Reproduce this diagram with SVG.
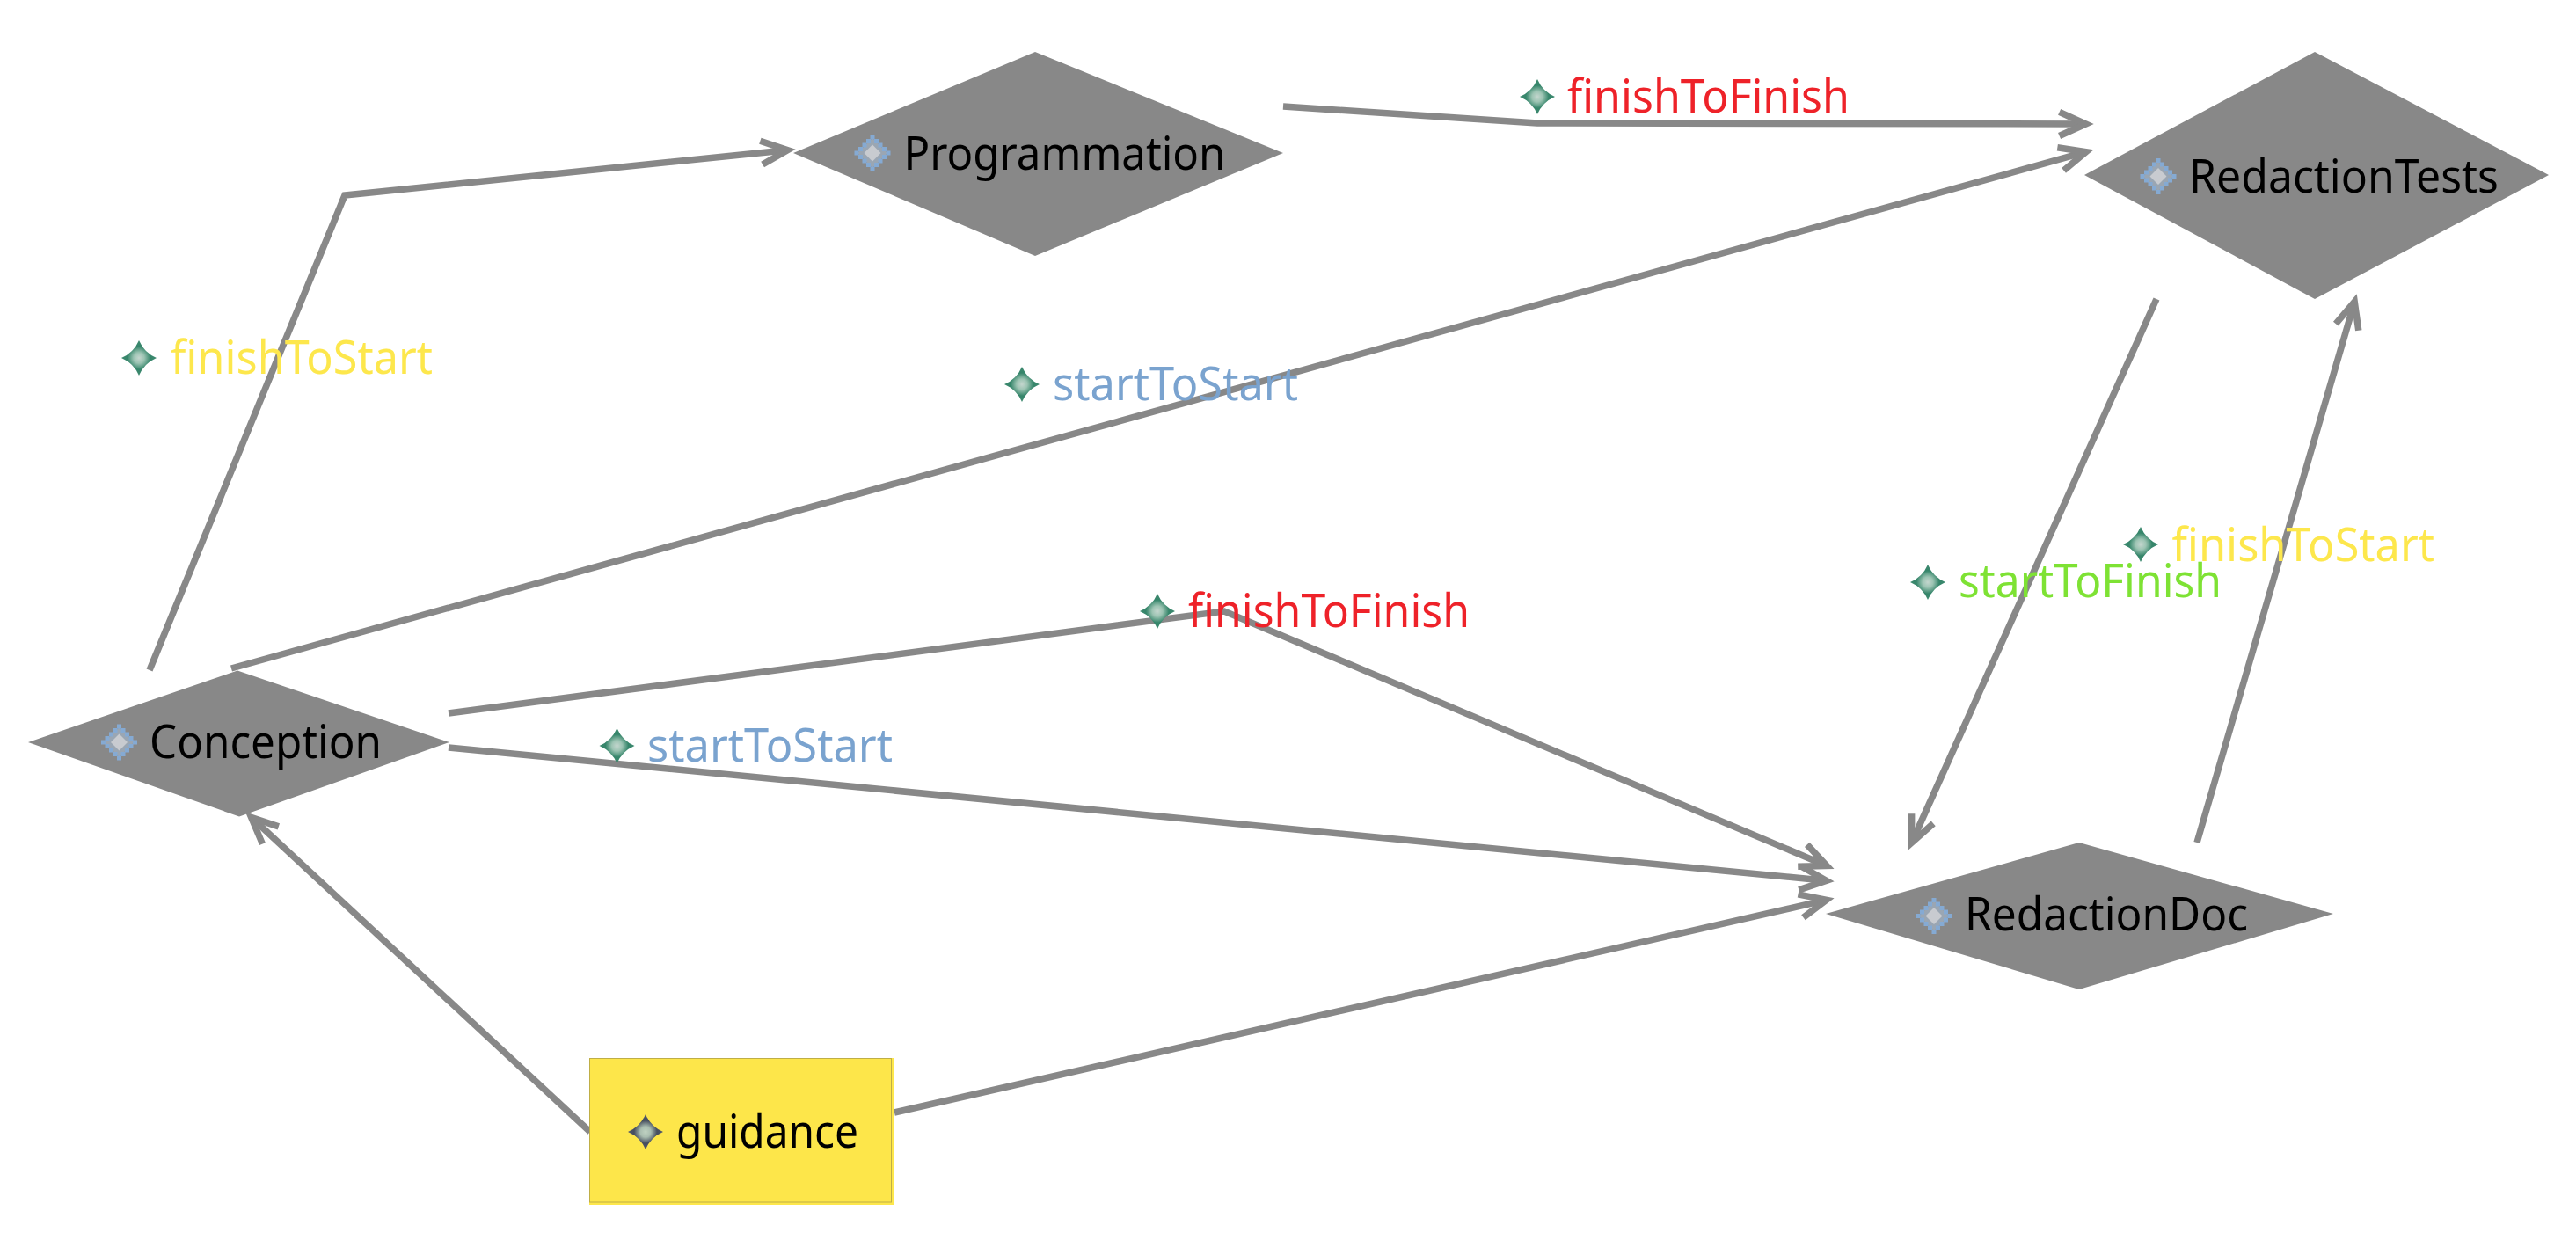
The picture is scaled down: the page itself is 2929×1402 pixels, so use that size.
<svg xmlns="http://www.w3.org/2000/svg" xmlns:xlink="http://www.w3.org/1999/xlink" width="2929" height="1402" viewBox="0 0 2929 1402">
<style>
text{font-family:"Noto Sans","Open Sans","DejaVu Sans",sans-serif;font-size:52.5px}
.node{fill:#000}
.conn{fill:none;stroke:#888888;stroke-width:7.5;marker-end:url(#arrow)}
.shape{fill:#888888}
.ffin{fill:#ee2229}.fsta{fill:#fde74c}.ssta{fill:#7aa3cf}.sfin{fill:#7ee234}
</style>
<defs>
<marker id="arrow" markerUnits="userSpaceOnUse" markerWidth="60" markerHeight="60" refX="40" refY="30" viewBox="0 0 60 60" orient="auto" overflow="visible">
<path d="M13.600,16.500 L43.600,30 L13.600,43.500" fill="none" stroke="#888888" stroke-width="7.5" stroke-miterlimit="6"/>
</marker>
<radialGradient id="gs"><stop offset="0" stop-color="#c4d6ce"/><stop offset=".3" stop-color="#9cc4b3"/><stop offset=".65" stop-color="#35856a"/><stop offset="1" stop-color="#3f8a70"/></radialGradient>
<radialGradient id="gd"><stop offset="0" stop-color="#bfd2c2"/><stop offset=".3" stop-color="#a9bdb0"/><stop offset=".65" stop-color="#454d5e"/><stop offset="1" stop-color="#555b6b"/></radialGradient>
<path id="st" d="M0,-20 Q6,-6 20,0 Q6,6 0,20 Q-6,6 -20,0 Q-6,-6 0,-20z"/>
<g id="star"><use xlink:href="#st" fill="url(#gs)"/></g>
<g id="dstar"><use xlink:href="#st" fill="url(#gd)"/></g>
<g id="task">
<polygon points="0,-17 17,0 0,17 -17,0" fill="#9aa6b3"/>
<path fill="#85aad3" d="M-2.500,-20.500h5v5h-5zM-2.500,15.500h5v5h-5zM-7,-16h5v5h-5zM2,-16h5v5h-5zM-7,11h5v5h-5zM2,11h5v5h-5zM-11.500,-11.500h5v5h-5zM6.500,-11.500h5v5h-5zM-11.500,6.500h5v5h-5zM6.500,6.500h5v5h-5zM-16,-7h5v5h-5zM11,-7h5v5h-5zM-16,2h5v5h-5zM11,2h5v5h-5zM-20.500,-2.500h5v5h-5zM15.500,-2.500h5v5h-5z"/>
<polygon points="0,-9.500 9.500,0 0,9.500 -9.500,0" fill="#c8cbd0"/>
</g>
</defs>
<rect width="2929" height="1402" fill="#ffffff"/>
<g id="connectors">
<polyline class="conn" points="170,762 392,222 892,171"/>
<polyline class="conn" points="263,760 2368.400,173.700"/>
<polyline class="conn" points="1459,121 1748,140 2368,141"/>
<polyline class="conn" points="510,811 1392,695 2073.800,983.100"/>
<polyline class="conn" points="510,850 2073,1001"/>
<polyline class="conn" points="1017,1265 2073.200,1024.200"/>
<polyline class="conn" points="671,1287 288.300,931.800"/>
<polyline class="conn" points="2452,340 2175.100,954.900"/>
<polyline class="conn" points="2498,958 2676.200,346.600"/>
</g>
<g id="node-Programmation"><polygon class="shape" points="902,174 1177,59 1459,174 1177,291"/><use xlink:href="#task" x="992" y="174"/><text class="node" x="1027.500" y="192.500" textLength="366" lengthAdjust="spacingAndGlyphs">Programmation</text></g>
<g id="node-RedactionTests"><polygon class="shape" points="2370,199 2632,59 2898,199 2632,340"/><use xlink:href="#task" x="2454" y="200.500"/><text class="node" x="2489" y="219" textLength="352" lengthAdjust="spacingAndGlyphs">RedactionTests</text></g>
<g id="node-Conception"><polygon class="shape" points="32,844 270,762.500 511,844 272,928.500"/><use xlink:href="#task" x="135.500" y="844"/><text class="node" x="170" y="861.500" textLength="264" lengthAdjust="spacingAndGlyphs">Conception</text></g>
<g id="node-RedactionDoc"><polygon class="shape" points="2076,1039 2364,958 2653,1039 2364,1125"/><use xlink:href="#task" x="2199" y="1041.500"/><text class="node" x="2234" y="1058" textLength="322" lengthAdjust="spacingAndGlyphs">RedactionDoc</text></g>
<g id="node-guidance"><rect x="670" y="1203" width="347" height="167" fill="#fde74c"/><rect x="670.500" y="1203.500" width="343" height="163.500" fill="#fde64a" stroke="#bfae46" stroke-width="1"/><use xlink:href="#dstar" x="734" y="1287"/><text class="node" x="769" y="1305" textLength="207" lengthAdjust="spacingAndGlyphs">guidance</text></g>
<g id="label-finishToStart-1"><use xlink:href="#star" x="158" y="407"/><text class="fsta" x="194" y="425" textLength="298" lengthAdjust="spacingAndGlyphs">finishToStart</text></g>
<g id="label-startToStart-1"><use xlink:href="#star" x="1162" y="437"/><text class="ssta" x="1197" y="455" textLength="279" lengthAdjust="spacingAndGlyphs">startToStart</text></g>
<g id="label-finishToFinish-1"><use xlink:href="#star" x="1748" y="110"/><text class="ffin" x="1782" y="128" textLength="321" lengthAdjust="spacingAndGlyphs">finishToFinish</text></g>
<g id="label-finishToFinish-2"><use xlink:href="#star" x="1316" y="695"/><text class="ffin" x="1351" y="712.500" textLength="320" lengthAdjust="spacingAndGlyphs">finishToFinish</text></g>
<g id="label-startToStart-2"><use xlink:href="#star" x="701.500" y="848"/><text class="ssta" x="736" y="866" textLength="279" lengthAdjust="spacingAndGlyphs">startToStart</text></g>
<g id="label-startToFinish"><use xlink:href="#star" x="2192" y="662"/><text class="sfin" x="2227" y="679" textLength="299" lengthAdjust="spacingAndGlyphs">startToFinish</text></g>
<g id="label-finishToStart-2"><use xlink:href="#star" x="2434" y="619"/><text class="fsta" x="2469.500" y="637.500" textLength="298.500" lengthAdjust="spacingAndGlyphs">finishToStart</text></g>
</svg>
